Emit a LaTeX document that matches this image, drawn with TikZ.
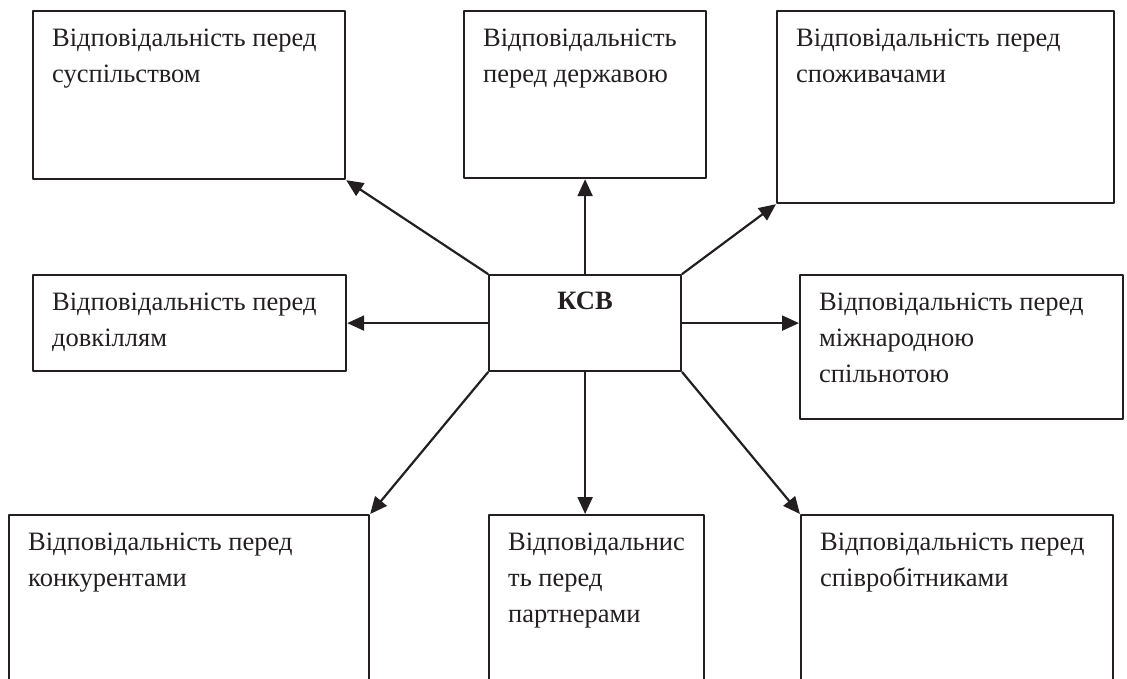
\documentclass[tikz,border=0pt]{standalone}
\usepackage{fontspec}
\setmainfont{Liberation Serif}
\usetikzlibrary{arrows.meta}
\definecolor{ink}{RGB}{35,31,32}
\tikzset{
  box/.style={draw=ink, line width=2.2pt, anchor=north west, inner sep=0pt},
  txt/.style={anchor=north west, inner sep=0pt, align=left, xshift=20pt, yshift=-18.5pt, text=ink, font=\fontsize{26.5}{36}\selectfont},
  arr/.style={draw=ink, line width=2.2pt, -{Triangle[length=17pt,width=15pt]}}
}

\begin{document}
\begin{tikzpicture}[line cap=round,line join=round,x=1pt,y=-1pt]
  \useasboundingbox (0,0) rectangle (1127,679);
  \clip (0,0) rectangle (1127,679);
  \node [box, minimum width=312pt, minimum height=168pt, label={[txt]north west:{Відповідальність перед\\суспільством}}] (soc) at (32,10) {};
  \node [box, minimum width=242pt, minimum height=167pt, label={[txt]north west:{Відповідальність\\перед державою}}] (state) at (463,10) {};
  \node [box, minimum width=337pt, minimum height=192pt, label={[txt]north west:{Відповідальність перед\\споживачами}}] (cons) at (776,10) {};
  \node [box, minimum width=313pt, minimum height=96pt, label={[txt]north west:{Відповідальність перед\\довкіллям}}] (env) at (32,274) {};
  \node [box, minimum width=192pt, minimum height=96pt, label={[anchor=north, inner sep=0pt, yshift=-18pt, text=ink, font=\fontsize{26.5}{30}\selectfont\bfseries]north:КСВ}] (ksv) at (488,274) {};
  \node [box, minimum width=323pt, minimum height=144pt, label={[txt]north west:{Відповідальність перед\\міжнародною\\спільнотою}}] (intl) at (799,274) {};
  \node [box, minimum width=360pt, minimum height=200pt, label={[txt]north west:{Відповідальність перед\\конкурентами}}] (comp) at (8,514) {};
  \node [box, minimum width=215pt, minimum height=200pt, label={[txt]north west:{Відповідальнис\\ть перед\\партнерами}}] (part) at (488,514) {};
  \node [box, minimum width=312pt, minimum height=200pt, label={[txt]north west:{Відповідальність перед\\співробітниками}}] (empl) at (800,514) {};
  \draw [arr] (ksv.north) -- (state.south);
  \draw [arr] (ksv.north west) -- (soc.south east);
  \draw [arr] (ksv.north east) -- (cons.south west);
  \draw [arr] (ksv.west) -- (env.east);
  \draw [arr] (ksv.east) -- (ksv.east -| intl.west);
  \draw [arr] (ksv.south west) -- (comp.north east);
  \draw [arr] (ksv.south) -- (ksv.south |- part.north);
  \draw [arr] (ksv.south east) -- (empl.north west);
\end{tikzpicture}
\end{document}
